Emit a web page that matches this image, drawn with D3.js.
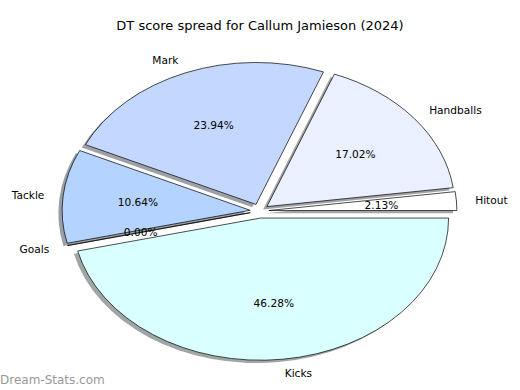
<!DOCTYPE html>
<html>
<head>
<meta charset="utf-8">
<script src="https://cdn.jsdelivr.net/npm/d3@7"></script>
<style>
  html, body { margin: 0; padding: 0; background: #fff; }
  svg { display: block; font-family: "DejaVu Sans", sans-serif; }
</style>
</head>
<body>
<div id="chart"></div>
<script>
// slices in counter-clockwise order starting at 3 o'clock
var categories = ['Hitout', 'Handballs', 'Mark', 'Tackle', 'Goals', 'Kicks'];
var percents = [2.13, 17.02, 23.94, 10.64, 0.00, 46.28];
var colours = ['#ffffff', '#eaf0ff', '#c4d8ff', '#b4d4ff', '#ccccff', '#d9ffff'];
var title = 'DT score spread for Callum Jamieson (2024)';

var width = 520;
var height = 390;
var cx = 259.5;
var cy = 211;
var rx = 188;
var ry = 142;
var explode = 0.05;

var svg = d3.select('#chart').append('svg')
  .attr('width', width)
  .attr('height', height);

// unit-circle coordinates -> pixels (the pie is stretched like the original axes)
var x = d3.scaleLinear().domain([-1, 1]).range([cx - rx, cx + rx]);
var y = d3.scaleLinear().domain([-1, 1]).range([cy + ry, cy - ry]);

var pie = d3.pie().sort(null).value(function (d) { return d; })
  .startAngle(Math.PI / 2)
  .endAngle(Math.PI / 2 - 2 * Math.PI);

var arcs = pie(percents);
var arc = d3.arc().innerRadius(0).outerRadius(1);

function theta(a) {
  // d3 angle -> math angle
  var am = (a.startAngle + a.endAngle) / 2;
  return Math.PI / 2 - am;
}

function shadowColour(c) {
  c = d3.rgb(c);
  return d3.rgb(c.r * 0.3, c.g * 0.3, c.b * 0.3);
}

var shadows = svg.append('g');
var wedges = svg.append('g');
var texts = svg.append('g');

arcs.forEach(function (a, i) {
  var t = theta(a);
  var ox = explode * Math.cos(t);
  var oy = explode * Math.sin(t);

  shadows.append('path')
    .attr('d', arc(a))
    .attr('transform', 'translate(' + x(ox - 0.02) + ',' + y(oy - 0.02) + ') scale(' + rx + ',' + ry + ')')
    .attr('fill', shadowColour(colours[i]))
    .attr('fill-opacity', 0.5);

  wedges.append('path')
    .attr('d', arc(a))
    .attr('transform', 'translate(' + x(ox) + ',' + y(oy) + ') scale(' + rx + ',' + ry + ')')
    .attr('fill', colours[i])
    .attr('stroke', '#000')
    .attr('stroke-width', 0.7)
    .attr('vector-effect', 'non-scaling-stroke');

  var lx = ox + 1.1 * Math.cos(t);
  var ly = oy + 1.1 * Math.sin(t);
  texts.append('text')
    .attr('x', x(lx))
    .attr('y', y(ly))
    .attr('text-anchor', lx > 0 ? 'start' : 'end')
    .attr('dominant-baseline', 'central')
    .attr('font-size', 10.6)
    .attr('fill', '#000')
    .text(categories[i]);

  var px = ox + 0.6 * Math.cos(t);
  var py = oy + 0.6 * Math.sin(t);
  texts.append('text')
    .attr('x', x(px))
    .attr('y', y(py))
    .attr('text-anchor', 'middle')
    .attr('dominant-baseline', 'central')
    .attr('font-size', 10.6)
    .attr('fill', '#000')
    .text(percents[i].toFixed(2) + '%');
});

svg.append('text')
  .attr('x', width / 2)
  .attr('y', 25)
  .attr('text-anchor', 'middle')
  .attr('dominant-baseline', 'central')
  .attr('font-size', 13)
  .text(title);

svg.append('text')
  .attr('x', 0)
  .attr('y', 384)
  .attr('font-size', 12)
  .attr('fill', '#999')
  .text('Dream-Stats.com');
</script>
</body>
</html>
